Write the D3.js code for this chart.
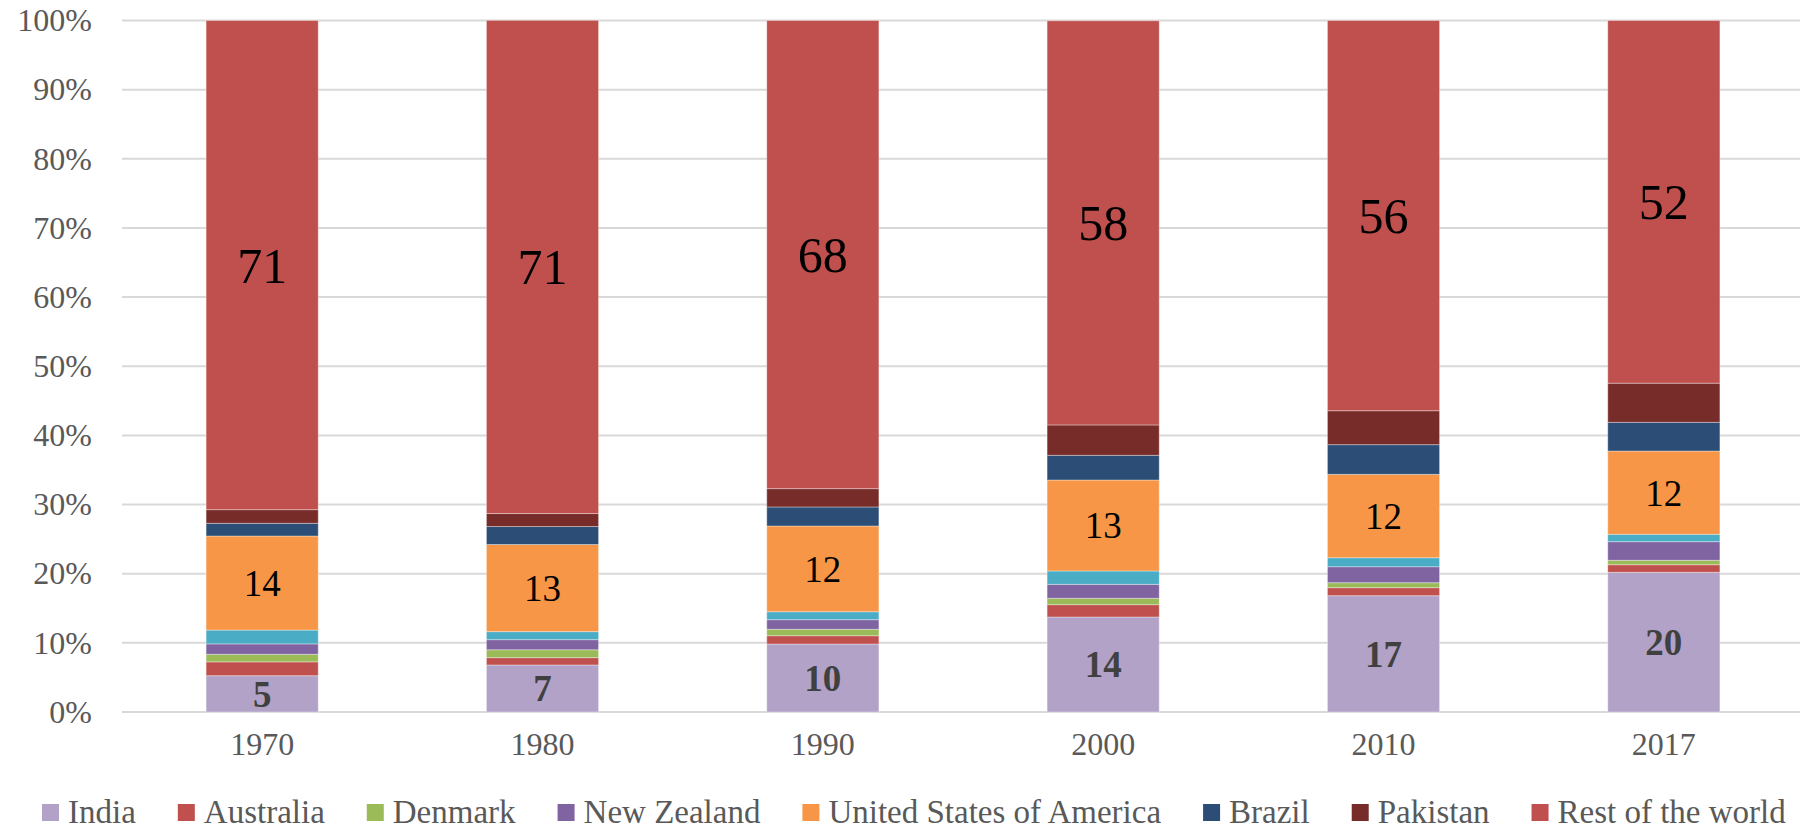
<!DOCTYPE html>
<html>
<head>
<meta charset="utf-8">
<script src="https://cdn.jsdelivr.net/npm/d3@7"></script>
<style>
  body { margin: 0; background: #fff; }
  svg { display: block; }
  text { font-family: "Liberation Serif", "DejaVu Serif", serif; }
</style>
</head>
<body>
<div id="chart"></div>
<script>
// data, shares in percent per year
var years = ["1970", "1980", "1990", "2000", "2010", "2017"];
var india      = [5.25, 6.8, 9.83, 13.74, 16.82, 20.2];
var australia  = [2.0, 1.06, 1.2, 1.78, 1.16, 1.1];
var denmark    = [1.1, 1.14, 0.93, 0.92, 0.72, 0.64];
var newZealand = [1.5, 1.46, 1.39, 2.02, 2.31, 2.69];
var other      = [2.0, 1.16, 1.15, 1.93, 1.3, 1.07];   // unlabelled cyan series
var usa        = [13.6, 12.6, 12.4, 13.16, 12.06, 12.04];
var brazil     = [1.84, 2.6, 2.75, 3.57, 4.29, 4.15];
var pakistan   = [1.97, 1.88, 2.65, 4.39, 4.91, 5.66];
var rest       = [70.74, 71.32, 67.7, 58.45, 56.43, 52.45];
var yTicks = [0, 10, 20, 30, 40, 50, 60, 70, 80, 90, 100];

var seriesNames = ["India", "Australia", "Denmark", "New Zealand", "Other",
  "United States of America", "Brazil", "Pakistan", "Rest of the world"];
var seriesVals = [india, australia, denmark, newZealand, other, usa, brazil, pakistan, rest];
var colors = ["#B2A2C7", "#C0504D", "#9BBB59", "#8064A2", "#4BACC6",
  "#F79646", "#2C4D75", "#772C2A", "#C0504D"];

var width = 1800, height = 830;
var margin = {top: 20.5, right: -4, bottom: 118, left: 122};

var svg = d3.select("#chart").append("svg")
  .attr("width", width)
  .attr("height", height);

var table = years.map(function(y, i){
  var row = {year: y};
  seriesNames.forEach(function(n, k){ row[n] = seriesVals[k][i]; });
  return row;
});

var stack = d3.stack().keys(seriesNames);
var layers = stack(table);

var x = d3.scaleBand()
  .domain(years)
  .range([margin.left, width - margin.right])
  .paddingInner(0.6)
  .paddingOuter(0.3);

var y = d3.scaleLinear()
  .domain([0, 100])
  .range([height - margin.bottom, margin.top]);

// gridlines
svg.append("g").selectAll("line")
  .data(yTicks).enter().append("line")
  .attr("x1", margin.left)
  .attr("x2", width)
  .attr("y1", function(d){ return y(d); })
  .attr("y2", function(d){ return y(d); })
  .attr("stroke", "#D9D9D9")
  .attr("stroke-width", 2);

// y axis labels
var yAxis = d3.axisLeft(y).tickValues(yTicks)
  .tickFormat(function(d){ return d + "%"; })
  .tickSize(0).tickPadding(30);
var yg = svg.append("g")
  .attr("transform", "translate(" + margin.left + ",0)")
  .call(yAxis);
yg.select(".domain").remove();
yg.selectAll("text")
  .attr("fill", "#595959")
  .style("font-size", "32px")
  .style("font-family", "Liberation Serif, serif");

// x axis labels
var xAxis = d3.axisBottom(x).tickSize(0).tickPadding(20);
var xg = svg.append("g")
  .attr("transform", "translate(0," + y(0) + ")")
  .call(xAxis);
xg.select(".domain").remove();
xg.selectAll("text")
  .attr("fill", "#595959")
  .style("font-size", "32px")
  .style("font-family", "Liberation Serif, serif");

// bars
var groups = svg.append("g").selectAll("g")
  .data(layers).enter().append("g")
  .attr("fill", function(d, i){ return colors[i]; });

groups.selectAll("rect")
  .data(function(d){ return d; })
  .enter().append("rect")
  .attr("x", function(d){ return x(d.data.year); })
  .attr("width", x.bandwidth())
  .attr("y", function(d){ return y(d[1]); })
  .attr("height", function(d){ return y(d[0]) - y(d[1]); })
  .attr("stroke", "#fff")
  .attr("stroke-opacity", 0.35)
  .attr("stroke-width", 1);

// data labels on India, USA and Rest of the world
var labelled = [
  {key: "India", size: 37, weight: "bold", fill: "#404040"},
  {key: "United States of America", size: 37, weight: "normal", fill: "#000"},
  {key: "Rest of the world", size: 50, weight: "normal", fill: "#000"}
];
labelled.forEach(function(lab){
  var layer = layers[seriesNames.indexOf(lab.key)];
  svg.append("g").selectAll("text")
    .data(layer).enter().append("text")
    .attr("x", function(d){ return x(d.data.year) + x.bandwidth() / 2; })
    .attr("y", function(d){ return (y(d[0]) + y(d[1])) / 2; })
    .attr("dy", "0.35em")
    .attr("text-anchor", "middle")
    .attr("fill", lab.fill)
    .style("font-size", lab.size + "px")
    .style("font-weight", lab.weight)
    .text(function(d){ return Math.round(d[1] - d[0]); });
});

// legend (cyan series has no entry)
var legendItems = seriesNames.filter(function(n){ return n !== "Other"; });
var legend = svg.append("g").attr("transform", "translate(42," + 811 + ")");
var lx = 0;
legendItems.forEach(function(n){
  var g = legend.append("g").attr("transform", "translate(" + lx + ",0)");
  g.append("rect")
    .attr("x", 0).attr("y", -7)
    .attr("width", 17).attr("height", 17)
    .attr("fill", colors[seriesNames.indexOf(n)]);
  var t = g.append("text")
    .attr("x", 26).attr("y", 0)
    .attr("dy", "0.35em")
    .attr("fill", "#595959")
    .style("font-size", "33px")
    .text(n);
  lx += 26 + t.node().getComputedTextLength() + 42;
});
</script>
</body>
</html>
